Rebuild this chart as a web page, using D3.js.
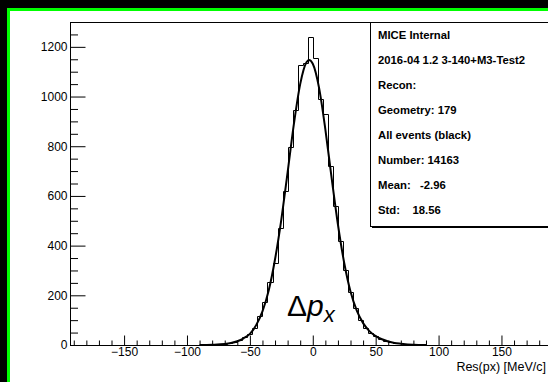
<!DOCTYPE html>
<html>
<head>
<meta charset="utf-8">
<script src="https://cdn.jsdelivr.net/npm/d3@7"></script>
<style>
  html, body { margin: 0; padding: 0; background: #000; }
  svg { display: block; }
  text { font-family: 'Liberation Sans', Arial, Helvetica, sans-serif; }
</style>
</head>
<body>
<svg id="chart"></svg>
<script>
// histogram of the px residual, 4 MeV/c bins
const binCentres = [-98, -94, -90, -86, -82, -78, -74, -70, -66, -62, -58, -54, -50, -46, -42, -38, -34, -30, -26, -22,
    -18, -14, -10, -6, -2, 2, 6, 10, 14, 18, 22, 26, 30, 34, 38, 42, 46, 50, 54, 58,
    62, 66, 70, 74, 78, 82, 86, 90, 94, 98];
const binCounts = [0, 1, 1, 2, 2, 3, 4, 6, 8, 14, 22, 32, 44, 70, 118, 175, 252, 330, 470, 618,
    795, 945, 1125, 1135, 1240, 1157, 990, 930, 722, 560, 418, 300, 215, 150, 100, 70, 50, 36, 26, 18,
    12, 9, 7, 5, 3, 2, 2, 1, 1, 0];
const binWidth = 4;

// fitted curve
const fitX = [-90, -80, -70, -65, -60, -55, -50, -45, -40, -35, -30, -25, -20, -15, -10, -5, -3, 0,
    5, 10, 15, 20, 25, 30, 35, 40, 45, 50, 55, 60, 65, 70, 80, 90];
const fitY = [0, 1, 4, 8, 15, 27, 45, 80, 135, 220, 345, 505, 695, 890, 1050, 1138, 1147, 1132,
    1035, 868, 672, 485, 330, 215, 138, 88, 56, 36, 23, 14, 8, 5, 1, 0];

const xMajorTicks = [-150, -100, -50, 0, 50, 100, 150];
const yMajorTicks = [0, 200, 400, 600, 800, 1000, 1200];
const xTitle = 'Res(px) [MeV/c]';

const statsLines = [
    'MICE Internal',
    '2016-04 1.2 3-140+M3-Test2',
    'Recon:',
    'Geometry: 179',
    'All events (black)',
    'Number: 14163',
    'Mean:   -2.96',
    'Std:    18.56'
];

const width = 548;
const height = 382;
const frame = { left: 70, top: 22, right: 548, bottom: 345 };

const svg = d3.select('#chart')
    .attr('width', width)
    .attr('height', height);

// canvas background + green highlight border
svg.append('rect')
    .attr('width', width)
    .attr('height', height)
    .attr('fill', '#000');
svg.append('rect')
    .attr('x', 8.5)
    .attr('y', 9.5)
    .attr('width', width + 20)
    .attr('height', height + 20)
    .attr('fill', '#fff')
    .attr('stroke', '#00ff00')
    .attr('stroke-width', 3);

const x = d3.scaleLinear()
    .domain([-193, 187])
    .range([frame.left, frame.right]);
const y = d3.scaleLinear()
    .domain([0, 1300])
    .range([frame.bottom, frame.top]);

// frame
svg.append('rect')
    .attr('x', frame.left + 0.5)
    .attr('y', frame.top + 0.5)
    .attr('width', 600)
    .attr('height', frame.bottom - frame.top)
    .attr('fill', 'none')
    .attr('stroke', '#000')
    .attr('stroke-width', 1);

// x axis: major + minor ticks pointing up
const xMinor = d3.range(-190, 190, 10).filter(v => !xMajorTicks.includes(v));
svg.append('g')
    .attr('class', 'x-minor')
    .attr('transform', `translate(0,${frame.bottom + 0.5})`)
    .call(d3.axisBottom(x).tickValues(xMinor).tickSize(-5).tickSizeOuter(0).tickFormat(''))
    .call(g => g.select('.domain').remove());
svg.append('g')
    .attr('class', 'x-major')
    .attr('transform', `translate(0,${frame.bottom + 0.5})`)
    .call(d3.axisBottom(x).tickValues(xMajorTicks).tickSize(-10).tickSizeOuter(0).tickPadding(2)
        .tickFormat(d => d < 0 ? '\u2212' + Math.abs(d) : String(d)))
    .call(g => g.select('.domain').remove())
    .call(g => g.selectAll('text')
        .attr('font-size', 12)
        .attr('fill', '#000')
        .style('font-family', "'Liberation Sans', Arial, sans-serif"));

// y axis: major + minor ticks pointing right
const yMinor = d3.range(50, 1300, 50).filter(v => !yMajorTicks.includes(v));
svg.append('g')
    .attr('class', 'y-minor')
    .attr('transform', `translate(${frame.left + 0.5},0)`)
    .call(d3.axisLeft(y).tickValues(yMinor).tickSize(-7.5).tickSizeOuter(0).tickFormat(''))
    .call(g => g.select('.domain').remove());
svg.append('g')
    .attr('class', 'y-major')
    .attr('transform', `translate(${frame.left + 0.5},0)`)
    .call(d3.axisLeft(y).tickValues(yMajorTicks).tickSize(-15).tickSizeOuter(0).tickPadding(3)
        .tickFormat(d3.format('d')))
    .call(g => g.select('.domain').remove())
    .call(g => g.selectAll('text')
        .attr('font-size', 12)
        .attr('fill', '#000')
        .style('font-family', "'Liberation Sans', Arial, sans-serif"));

svg.selectAll('.tick line').attr('stroke', '#000');

// axis title, right aligned at the end of the axis
svg.append('text')
    .attr('x', 546)
    .attr('y', 371)
    .attr('text-anchor', 'end')
    .attr('font-size', 12.5)
    .attr('fill', '#000')
    .text(xTitle);

// histogram outline
const stepPts = [[binCentres[0] - binWidth / 2, 0]];
binCentres.forEach((c, i) => {
    stepPts.push([c - binWidth / 2, binCounts[i]]);
    stepPts.push([c + binWidth / 2, binCounts[i]]);
});
stepPts.push([binCentres[binCentres.length - 1] + binWidth / 2, 0]);

svg.append('path')
    .datum(stepPts)
    .attr('class', 'hist')
    .attr('fill', 'none')
    .attr('stroke', '#000')
    .attr('stroke-width', 1)
    .attr('d', d3.line()
        .x(d => Math.round(x(d[0])) + 0.5)
        .y(d => Math.round(y(d[1])) + 0.5));

// fit curve
svg.append('path')
    .datum(fitX.map((v, i) => [v, fitY[i]]))
    .attr('class', 'fit')
    .attr('fill', 'none')
    .attr('stroke', '#000')
    .attr('stroke-width', 2)
    .attr('d', d3.line()
        .curve(d3.curveMonotoneX)
        .x(d => x(d[0]))
        .y(d => y(d[1])));

// stats box
const box = { left: 370, top: 22, bottom: 226 };
svg.append('rect')
    .attr('x', box.left + 2)
    .attr('y', box.top + 2)
    .attr('width', 300)
    .attr('height', box.bottom - box.top)
    .attr('fill', '#000');
svg.append('rect')
    .attr('x', box.left + 0.5)
    .attr('y', box.top + 0.5)
    .attr('width', 300)
    .attr('height', box.bottom - box.top)
    .attr('fill', '#fff')
    .attr('stroke', '#000')
    .attr('stroke-width', 1);

svg.append('g')
    .attr('class', 'stats')
    .selectAll('text')
    .data(statsLines)
    .enter()
    .append('text')
        .attr('x', box.left + 8)
        .attr('y', (d, i) => 39 + i * 25)
        .attr('font-size', 11.3)
        .attr('font-weight', 'bold')
        .attr('fill', '#000')
        .style('white-space', 'pre')
        .text(d => d);

// delta p_x label
const lbl = svg.append('text')
    .attr('x', x(-20.5))
    .attr('y', y(118))
    .attr('font-size', 30)
    .attr('fill', '#000');
lbl.append('tspan').text('\u0394');
lbl.append('tspan').attr('font-style', 'italic').text('p');
lbl.append('tspan')
    .attr('font-style', 'italic')
    .attr('font-size', 22)
    .attr('dy', 6)
    .text('x');
</script>
</body>
</html>
